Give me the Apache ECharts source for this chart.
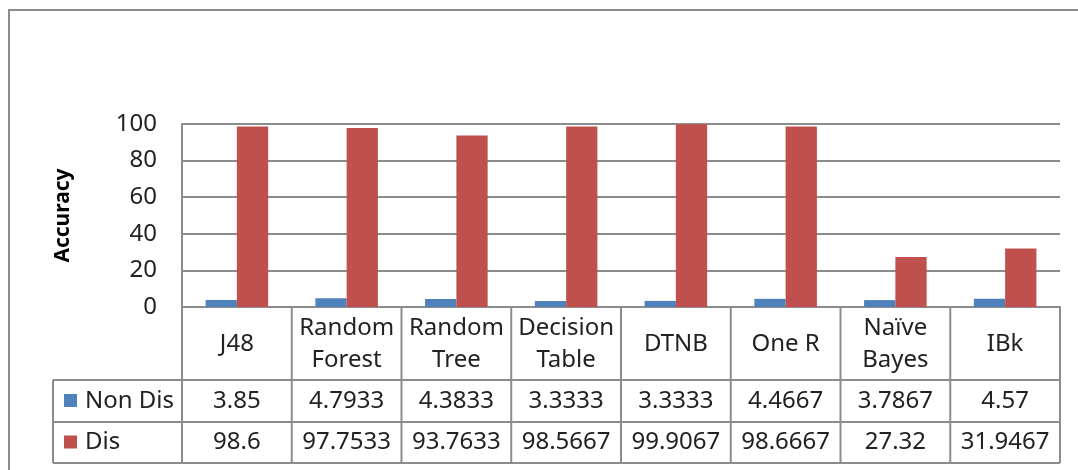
<!DOCTYPE html>
<html>
<head>
<meta charset="utf-8">
<title>Accuracy</title>
<script src="https://cdn.jsdelivr.net/npm/echarts@6/dist/echarts.min.js"></script>
<style>
html, body { margin: 0; padding: 0; background: #fff; }
#main { width: 1078px; height: 470px; }
</style>
</head>
<body>
<div id="main"></div>
<script>
// data
var categories = ['J48', 'Random\nForest', 'Random\nTree', 'Decision\nTable', 'DTNB', 'One R', 'Naïve\nBayes', 'IBk'];
var nonDis = [3.85, 4.7933, 4.3833, 3.3333, 3.3333, 4.4667, 3.7867, 4.57];
var dis = [98.6, 97.7533, 93.7633, 98.5667, 99.9067, 98.6667, 27.32, 31.9467];
var seriesNames = ['Non Dis', 'Dis'];
var colors = ['#4f81bd', '#c0504d'];

var FONT = 'Noto Sans';
var LINE = '#8c8c8c';

var chart = echarts.init(document.getElementById('main'));

var option = {
    animation: false,
    color: colors,
    grid: {
        left: 182,
        right: 18,
        top: 124,
        bottom: 163
    },
    xAxis: {
        type: 'category',
        data: categories,
        axisLine: { lineStyle: { color: LINE, width: 2 } },
        axisTick: { show: false },
        axisLabel: { show: false }
    },
    yAxis: {
        type: 'value',
        min: 0,
        max: 100,
        interval: 20,
        name: 'Accuracy',
        nameLocation: 'middle',
        nameGap: 108,
        nameTextStyle: { fontFamily: FONT, fontSize: 21, fontWeight: 'bold', color: '#000' },
        axisLine: { show: true, lineStyle: { color: LINE, width: 2 } },
        axisTick: { show: false },
        axisLabel: { fontFamily: FONT, fontSize: 24, color: '#222', margin: 25 },
        splitLine: { lineStyle: { color: LINE, width: 2 } }
    },
    series: [
        { name: seriesNames[0], type: 'bar', data: nonDis, barGap: '0%', barCategoryGap: '43%' },
        { name: seriesNames[1], type: 'bar', data: dis }
    ]
};

chart.setOption(option);

// data table under the plot, placed from the axis scale
var gridTop = 124, gridBottom = 470 - 163;
var gridLeft = 182, gridRight = 1078 - 18;
var colW = (gridRight - gridLeft) / categories.length;
var rowBottoms = [gridBottom + 73, gridBottom + 115, gridBottom + 156];
var tableLeft = 53;
var g = [];

function line(x1, y1, x2, y2) {
    g.push({ type: 'line', shape: { x1: x1, y1: y1, x2: x2, y2: y2 }, style: { stroke: LINE, lineWidth: 2 }, z: 10 });
}
function text(str, x, y, align) {
    g.push({ type: 'text', x: x, y: y, style: { text: str, font: '24px "' + FONT + '"', fill: '#222', align: align || 'center', verticalAlign: 'middle', lineHeight: 32 }, z: 11 });
}

// outer frame
g.push({ type: 'rect', shape: { x: 9, y: 10, width: 1090, height: 480 }, style: { fill: null, stroke: LINE, lineWidth: 2 } });

// horizontal lines
line(gridLeft, rowBottoms[0], gridRight, rowBottoms[0]);
line(tableLeft, rowBottoms[0], gridLeft, rowBottoms[0]);
line(tableLeft, rowBottoms[1], gridRight, rowBottoms[1]);
line(tableLeft, rowBottoms[2], gridRight, rowBottoms[2]);
// vertical lines
line(tableLeft, rowBottoms[0], tableLeft, rowBottoms[2]);
for (var i = 0; i <= categories.length; i++) {
    var bx = gridLeft + i * colW;
    line(bx, gridBottom, bx, rowBottoms[2]);
}

var rows = [nonDis, dis];
categories.forEach(function (c, i) {
    var cx = chart.convertToPixel({ xAxisIndex: 0 }, i);
    text(c, cx, (gridBottom + rowBottoms[0]) / 2 + 1);
    rows.forEach(function (r, k) {
        text(String(r[i]), cx, (rowBottoms[k] + rowBottoms[k + 1]) / 2);
    });
});

// legend keys
seriesNames.forEach(function (n, k) {
    var cy = (rowBottoms[k] + rowBottoms[k + 1]) / 2;
    g.push({ type: 'rect', shape: { x: 64, y: cy - 7, width: 13, height: 13 }, style: { fill: colors[k] }, z: 11 });
    text(n, 85, cy, 'left');
});

chart.setOption({ graphic: g });
</script>
</body>
</html>
